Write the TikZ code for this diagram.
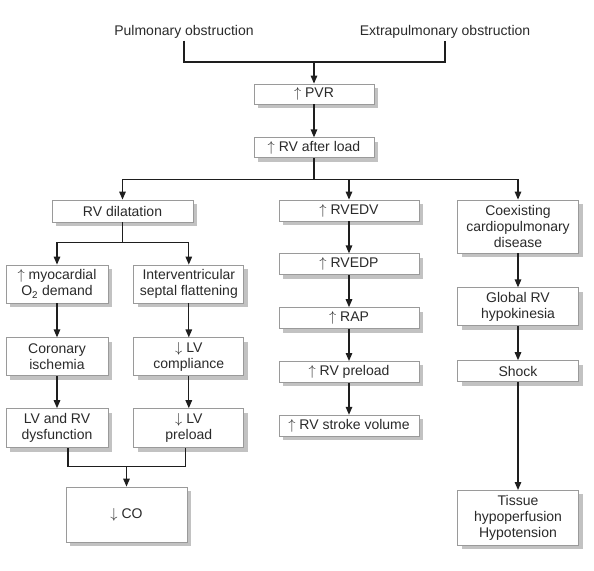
\documentclass[tikz,border=0pt]{standalone}
\usepackage{fontspec}
\setmainfont{Liberation Sans}
\usetikzlibrary{shapes,arrows.meta,calc,positioning,shadows}

\definecolor{linegray}{HTML}{1E1E1E}
\definecolor{boxgray}{HTML}{9A9A9A}
\definecolor{textgray}{HTML}{2A2A2A}
\definecolor{shadowgray}{HTML}{C2C2C2}

\newcommand{\up}{$\uparrow$\ }
\newcommand{\dn}{$\downarrow$\ }

\tikzset{
  box/.style={draw=boxgray, line width=0.8pt, fill=white, text=textgray, align=center,
    inner xsep=2pt, inner ysep=2pt, minimum height=21pt,
    drop shadow={shadow xshift=4pt, shadow yshift=-4pt, fill=shadowgray, opacity=1}},
  cause/.style={text=textgray, inner sep=2pt},
  link/.style={draw=linegray, line width=1.3pt},
  arr/.style={link, -{Triangle[length=8pt, width=6.5pt]}},
}

\begin{document}
\begin{tikzpicture}[x=1pt, y=-1pt, font=\fontsize{14}{16}\selectfont]
  \useasboundingbox (0,0) rectangle (594,570);

  \node[cause] (pulm) at (184,32) {Pulmonary obstruction};
  \node[cause] (extra) at (445,32) {Extrapulmonary obstruction};

  \node[box, minimum width=120pt, minimum height=20pt] (pvr) at (314,94) {\up PVR};
  \node[box, minimum width=120pt, minimum height=20pt, below=33pt of pvr] (rvload) {\up RV after load};

  \node[box, minimum width=141pt, minimum height=22pt] (rvdil) at (122.5,211) {RV dilatation};
  \node[box, minimum width=140pt] (rvedv) at (349,210.5) {\up RVEDV};
  \node[box, minimum width=121pt, minimum height=53pt] (coex) at (518,226.5) {Coexisting\\cardiopulmonary\\disease};

  % left branch
  \node[box, minimum width=102pt, minimum height=38pt] (myo) at (57,284) {\up myocardial\\O\textsubscript{2} demand};
  \node[box, minimum width=110pt, minimum height=38pt, right=25pt of myo] (ivs) {Interventricular\\septal flattening};
  \node[box, minimum width=102pt, minimum height=38pt, below=34pt of myo] (cor) {Coronary\\ischemia};
  \node[box, minimum width=110pt, minimum height=38pt, below=34pt of ivs] (lvc) {\dn LV\\compliance};
  \node[box, minimum width=102pt, minimum height=39pt, below=32pt of cor] (lvrv) {LV and RV\\dysfunction};
  \node[box, minimum width=110pt, minimum height=39pt, below=32pt of lvc] (lvp) {\dn LV\\preload};
  \node[box, minimum width=121pt, minimum height=55pt] (co) at (126.5,514.5) {\dn CO};

  % middle branch
  \node[box, minimum width=140pt, below=32pt of rvedv] (rvedp) {\up RVEDP};
  \node[box, minimum width=140pt, below=32pt of rvedp] (rap) {\up RAP};
  \node[box, minimum width=140pt, below=32pt of rap] (rvpre) {\up RV preload};
  \node[box, minimum width=140pt, below=32pt of rvpre] (rvsv) {\up RV stroke volume};

  % right branch
  \node[box, minimum width=121pt, minimum height=38pt, below=34pt of coex] (glob) {Global RV\\hypokinesia};
  \node[box, minimum width=121pt, below=34pt of glob] (shock) {Shock};
  \node[box, minimum width=121pt, minimum height=55pt, below=108pt of shock] (tissue) {Tissue\\hypoperfusion\\Hypotension};

  \coordinate (top) at (314,62);
  \draw[link] (pulm.south) |- (top) -| (extra.south);
  \draw[arr] (top) -- (pvr);
  \draw[arr] (pvr) -- (rvload);

  \draw[link] (rvload.south) -- ++(0,21) coordinate (br);
  \draw[arr] (br) -| (rvdil.north);
  \draw[arr] (br) -| (coex.north);
  \draw[arr] (br -| rvedv.north) -- (rvedv.north);

  \draw[link] (rvdil.south) -- ++(0,20) coordinate (sub);
  \draw[arr] (sub) -| (myo.north);
  \draw[arr] (sub) -| (ivs.north);
  \draw[arr] (myo) -- (cor);
  \draw[arr] (cor) -- (lvrv);
  \draw[arr] (ivs) -- (lvc);
  \draw[arr] (lvc) -- (lvp);

  \coordinate (jn) at ($(co.north)+(0,-20)$);
  \draw[link] ([xshift=11pt]lvrv.south) |- (jn) -| ([xshift=-3pt]lvp.south);
  \draw[arr] (jn) -- (co);

  \draw[arr] (rvedv) -- (rvedp);
  \draw[arr] (rvedp) -- (rap);
  \draw[arr] (rap) -- (rvpre);
  \draw[arr] (rvpre) -- (rvsv);

  \draw[arr] (coex) -- (glob);
  \draw[arr] (glob) -- (shock);
  \draw[arr] (shock) -- (tissue);

\end{tikzpicture}
\end{document}
